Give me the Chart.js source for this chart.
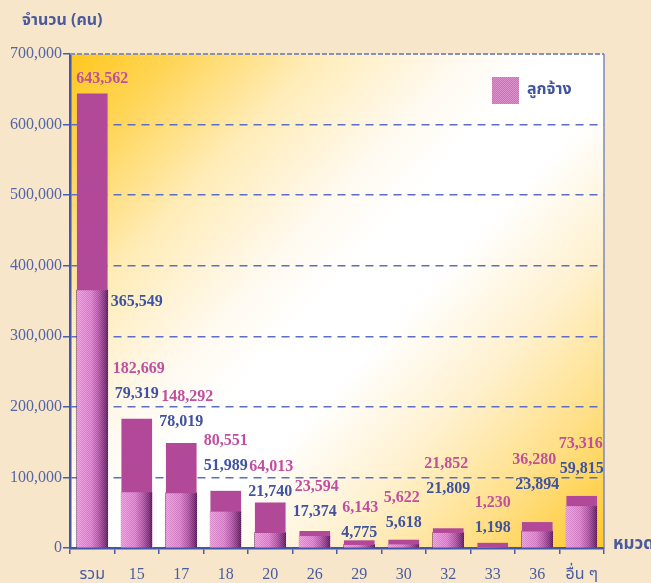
<!DOCTYPE html>
<html>
<head>
<meta charset="utf-8">
<script src="https://cdn.jsdelivr.net/npm/chart.js@4/dist/chart.umd.min.js"></script>
<style>
  html, body { margin: 0; padding: 0; background: #f7e6c9; }
  #wrap { width: 651px; height: 583px; }
</style>
</head>
<body>
<div id="wrap"><canvas id="chart" width="651" height="583"></canvas></div>
<script>
// categories (หมวด) and values
const categories = ['รวม', '15', '17', '18', '20', '26', '29', '30', '32', '33', '36', 'อื่น ๆ'];
const totalPersons = [643562, 182669, 148292, 80551, 64013, 23594, 6143, 5622, 21852, 1230, 36280, 73316];
const employees = [365549, 79319, 78019, 51989, 21740, 17374, 4775, 5618, 21809, 1198, 23894, 59815];
const yTickValues = [0, 100000, 200000, 300000, 400000, 500000, 600000, 700000];

// how far (px) each pink value label sits above its bar top
const labelLift = [15, 50, 46, 50, 36, 44, 36, 46, 69, 44, 63, 52];
const labelShift = [10, 2, 6, 0, 1, 2, 1, -2, -2, 0, -3, -1];

const thaiFont = "'Noto Sans Thai', 'Noto Serif Thai', 'Loma', 'Garuda', 'Liberation Serif', serif";
const serifFont = "'Liberation Serif', 'Times New Roman', " + thaiFont;
const BLUE = '#3f53a0';
const PINK_TEXT = '#c04f9e';
const MAGENTA = '#b24898';
const BAR_W = 31;

// shade stops across the patterned (3D) bar, left -> right
const shadeStops = [
  [0, [226, 152, 212]],
  [0.45, [214, 128, 200]],
  [0.7, [178, 92, 168]],
  [0.9, [132, 56, 126]],
  [1, [96, 36, 96]]
];

function shadeAt(t) {
  for (let i = 1; i < shadeStops.length; i++) {
    if (t <= shadeStops[i][0]) {
      const [t0, c0] = shadeStops[i - 1];
      const [t1, c1] = shadeStops[i];
      const k = (t - t0) / (t1 - t0);
      return c0.map((v, j) => v + (c1[j] - v) * k);
    }
  }
  return shadeStops[shadeStops.length - 1][1];
}

function barPattern(ctx, left) {
  const c = document.createElement('canvas');
  c.width = BAR_W;
  c.height = 2;
  const g = c.getContext('2d');
  for (let x = 0; x < BAR_W; x++) {
    const col = shadeAt(x / (BAR_W - 1));
    for (let y = 0; y < 2; y++) {
      const d = (x + y) % 2 ? 16 : -8;
      g.fillStyle = 'rgb(' + col.map(v => Math.max(0, Math.min(255, Math.round(v + d)))).join(',') + ')';
      g.fillRect(x, y, 1, 1);
    }
  }
  const p = ctx.createPattern(c, 'repeat');
  p.setTransform(new DOMMatrix().translate(left, 0));
  return p;
}

function flatPattern(ctx) {
  const c = document.createElement('canvas');
  c.width = 2;
  c.height = 2;
  const g = c.getContext('2d');
  g.fillStyle = '#dc90cc';
  g.fillRect(0, 0, 2, 2);
  g.fillStyle = '#c872b8';
  g.fillRect(1, 0, 1, 1);
  g.fillRect(0, 1, 1, 1);
  return ctx.createPattern(c, 'repeat');
}

// background: beige page + diagonal yellow/white plot area
const backdrop = {
  id: 'backdrop',
  beforeDraw(chart) {
    const { ctx, chartArea: a } = chart;
    ctx.save();
    ctx.fillStyle = '#f7e6c9';
    ctx.fillRect(0, 0, chart.width, chart.height);
    const gr = ctx.createLinearGradient(a.left, a.top, a.right, a.bottom);
    gr.addColorStop(0, '#ffc81e');
    gr.addColorStop(0.1, '#ffd452');
    gr.addColorStop(0.25, '#ffecb8');
    gr.addColorStop(0.4, '#fffaf0');
    gr.addColorStop(0.48, '#ffffff');
    gr.addColorStop(0.58, '#ffffff');
    gr.addColorStop(0.72, '#fff1cf');
    gr.addColorStop(0.86, '#ffdf86');
    gr.addColorStop(1, '#ffc828');
    ctx.fillStyle = gr;
    ctx.fillRect(a.left, a.top, a.right - a.left, a.bottom - a.top);
    ctx.restore();
  },
  beforeDatasetsDraw(chart) {
    const { ctx, chartArea: a } = chart;
    ctx.save();
    ctx.strokeStyle = '#8590bd';
    ctx.lineWidth = 2;
    ctx.setLineDash([5, 2]);
    ctx.beginPath();
    ctx.moveTo(a.left, a.top);
    ctx.lineTo(a.right, a.top);
    ctx.stroke();
    ctx.setLineDash([]);
    ctx.lineWidth = 1.5;
    ctx.strokeStyle = '#7d88b8';
    ctx.beginPath();
    ctx.moveTo(a.right, a.top);
    ctx.lineTo(a.right, a.bottom);
    ctx.stroke();
    ctx.restore();
  }
};

// value labels, legend and axis titles
const annotations = {
  id: 'annotations',
  afterDraw(chart) {
    const { ctx, chartArea: a } = chart;
    const xs = chart.scales.x;
    const ys = chart.scales.y;
    ctx.save();
    ctx.font = 'bold 16px ' + serifFont;
    ctx.textBaseline = 'middle';
    categories.forEach((c, i) => {
      const cx = xs.getPixelForValue(i);
      const top = ys.getPixelForValue(totalPersons[i]);
      const py = top - labelLift[i];
      ctx.textAlign = 'center';
      ctx.fillStyle = PINK_TEXT;
      ctx.fillText(totalPersons[i].toLocaleString('en-US'), cx + labelShift[i], py);
      ctx.fillStyle = BLUE;
      if (i === 0) {
        ctx.textAlign = 'left';
        ctx.fillText(employees[i].toLocaleString('en-US'), cx + BAR_W / 2 + 3, ys.getPixelForValue(employees[i]) + 12);
      } else {
        ctx.fillText(employees[i].toLocaleString('en-US'), cx, py + 25);
      }
    });

    // legend
    ctx.fillStyle = flatPattern(ctx);
    ctx.fillRect(a.right - 112, a.top + 23, 27, 27);
    ctx.fillStyle = BLUE;
    ctx.textAlign = 'left';
    ctx.font = 'bold 16px ' + thaiFont;
    ctx.fillText('ลูกจ้าง', a.right - 77, a.top + 37);

    // axis titles
    ctx.fillStyle = '#4a5a9c';
    ctx.font = 'bold 16px ' + thaiFont;
    ctx.fillText('จำนวน (คน)', 22, 22);
    ctx.font = 'bold 17px ' + thaiFont;
    ctx.fillText('หมวด', a.right + 9, a.bottom - 2);
    ctx.restore();
  }
};

new Chart(document.getElementById('chart'), {
  type: 'bar',
  data: {
    labels: categories,
    datasets: [
      {
        label: 'รวม',
        data: categories.map((c, i) => [employees[i], totalPersons[i]]),
        backgroundColor: MAGENTA,
        barThickness: BAR_W - 1,
        minBarLength: 4
      },
      {
        label: 'ลูกจ้าง',
        data: employees,
        barThickness: BAR_W,
        backgroundColor: (context) => {
          const xs = context.chart.scales.x;
          if (!xs || context.dataIndex === undefined) return '#d37fc2';
          const left = xs.getPixelForValue(context.dataIndex) - BAR_W / 2;
          return barPattern(context.chart.ctx, Math.round(left));
        }
      }
    ]
  },
  options: {
    responsive: false,
    animation: false,
    grouped: false,
    layout: { padding: { top: 54, right: 47, left: 0, bottom: 0 } },
    plugins: {
      legend: { display: false },
      tooltip: { enabled: false }
    },
    scales: {
      x: {
        grid: {
          offset: true,
          drawOnChartArea: false,
          tickLength: 6,
          lineWidth: 1.5,
          color: '#4a5caa'
        },
        border: { color: '#4257a8', width: 2.5 },
        ticks: {
          color: '#4a5ca0',
          font: { family: serifFont, size: 16 },
          padding: 11,
          autoSkip: false,
          maxRotation: 0
        },
        afterFit: (scale) => { scale.height = 35; }
      },
      y: {
        min: 0,
        max: 700000,
        afterBuildTicks: (scale) => { scale.ticks = yTickValues.map(v => ({ value: v })); },
        grid: {
          color: (c) => (c.tick && c.tick.value === 700000) ? 'rgba(0,0,0,0)' : '#5b6ec4',
          tickColor: '#4a5caa',
          lineWidth: 1.5,
          tickLength: 7
        },
        border: { color: '#4257a8', width: 2.5, dash: [8, 6] },
        ticks: {
          color: '#5566a6',
          font: { family: serifFont, size: 16 },
          padding: 1,
          callback: (v) => v.toLocaleString('en-US')
        },
        afterFit: (scale) => { scale.width = 70; }
      }
    }
  },
  plugins: [backdrop, annotations]
});
</script>
</body>
</html>
